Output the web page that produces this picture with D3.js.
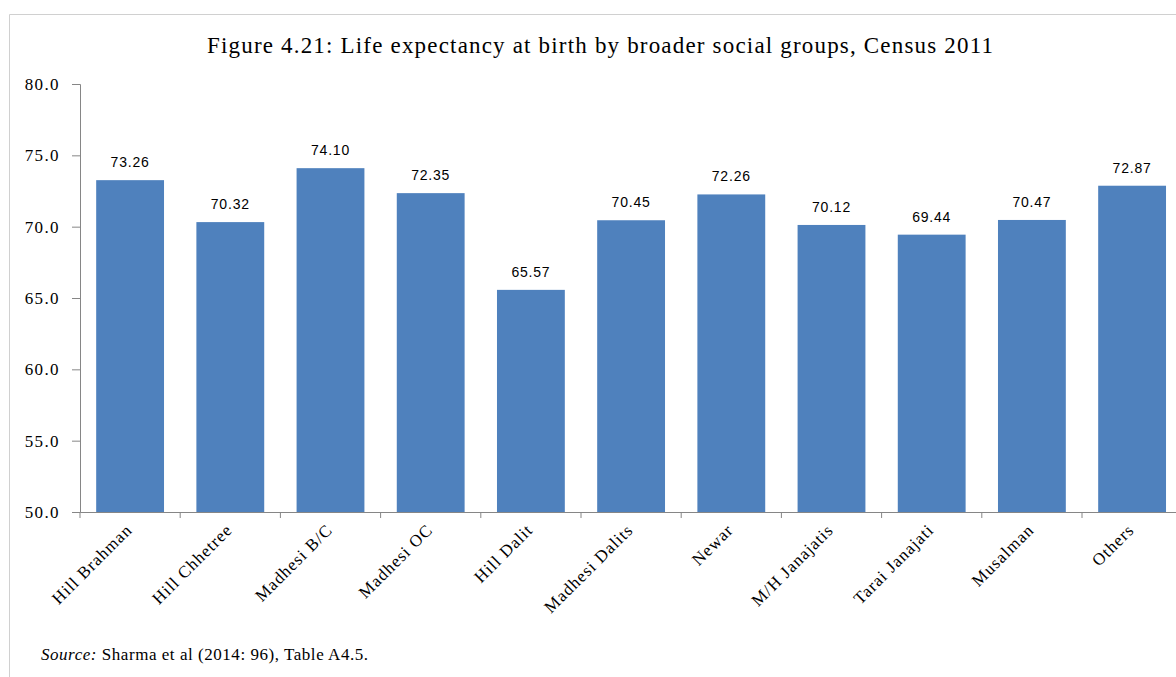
<!DOCTYPE html>
<html>
<head>
<meta charset="utf-8">
<script src="https://cdn.jsdelivr.net/npm/d3@7"></script>
<style>
  html, body { margin: 0; padding: 0; background: #ffffff; }
  svg { display: block; }
</style>
</head>
<body>
<svg id="chart" width="1176" height="677"></svg>
<script>
const categories = ["Hill Brahman", "Hill Chhetree", "Madhesi B/C", "Madhesi OC", "Hill Dalit", "Madhesi Dalits", "Newar", "M/H Janajatis", "Tarai Janajati", "Musalman", "Others"];
const values = [73.26, 70.32, 74.10, 72.35, 65.57, 70.45, 72.26, 70.12, 69.44, 70.47, 72.87];
const yTicks = [50, 55, 60, 65, 70, 75, 80];
const titleText = "Figure 4.21: Life expectancy at birth by broader social groups, Census 2011";
const sourceLabel = "Source:";
const sourceText = " Sharma et al (2014: 96), Table A4.5.";

const svg = d3.select("#chart");
const W = 1176, H = 677;
const m = { left: 80, top: 84, bottom: 512 };
const step = 100.2;
const x = d3.scaleBand().domain(categories).range([m.left, m.left + step * categories.length]).paddingInner(0.323).paddingOuter(0.1615);
const y = d3.scaleLinear().domain([50, 80]).range([m.bottom, m.top]);

// frame
svg.append("path").attr("d", `M9.5,${H} V14.5 H${W}`).attr("fill", "none").attr("stroke", "#d0d0d0").attr("stroke-width", 1);

// title
svg.append("text").attr("x", 207).attr("y", 53).attr("textLength", 786).attr("lengthAdjust", "spacing")
  .attr("font-family", "Liberation Serif, serif").attr("font-size", 23).attr("fill", "#000").text(titleText);

// bars
svg.append("g").selectAll("rect").data(categories).join("rect")
  .attr("x", d => x(d)).attr("width", x.bandwidth())
  .attr("y", (d, i) => y(values[i])).attr("height", (d, i) => y(50) - y(values[i]))
  .attr("fill", "#4F81BD");

// value labels
svg.append("g").selectAll("text").data(categories).join("text")
  .attr("x", d => x(d) + x.bandwidth() / 2).attr("y", (d, i) => y(values[i]) - 13)
  .attr("text-anchor", "middle").attr("font-family", "Liberation Sans, Arial, sans-serif").attr("font-size", 14)
  .attr("letter-spacing", 0.8).attr("fill", "#000")
  .text((d, i) => values[i].toFixed(2));

// y axis
const yAxis = svg.append("g").attr("transform", `translate(${m.left},0)`)
  .attr("font-family", "Liberation Serif, serif")
  .call(d3.axisLeft(y).tickValues(yTicks).tickFormat(d3.format(".1f")).tickSize(8).tickPadding(12));
yAxis.attr("font-family", "Liberation Serif, serif");
yAxis.select(".domain").attr("stroke", "#868686");
yAxis.selectAll(".tick line").attr("stroke", "#868686");
yAxis.selectAll(".tick text").attr("font-family", "Liberation Serif, serif").attr("font-size", 17)
  .attr("letter-spacing", 1.4).attr("fill", "#000");

// x axis
const xAxis = svg.append("g").attr("transform", `translate(0,${m.bottom})`)
  .call(d3.axisBottom(x).tickSize(0).tickFormat(""));
xAxis.select(".domain").attr("stroke", "#868686");
xAxis.selectAll(".tick").remove();
const bounds = categories.map(c => x(c) - x.step() * x.paddingInner() / 2).concat([x(categories[categories.length - 1]) + x.bandwidth() + x.step() * x.paddingInner() / 2]);
xAxis.selectAll("line.sep").data(bounds).join("line").attr("class", "sep")
  .attr("x1", d => d).attr("x2", d => d).attr("y1", 0).attr("y2", 6).attr("stroke", "#868686");

// x labels
svg.append("g").selectAll("text").data(categories).join("text")
  .attr("transform", d => `translate(${x(d) + x.bandwidth() / 2 + 3},${m.bottom + 19}) rotate(-45)`)
  .attr("text-anchor", "end").attr("font-family", "Liberation Serif, serif").attr("font-size", 17)
  .attr("letter-spacing", 1).attr("fill", "#000").text(d => d);

// source
const src = svg.append("text").attr("x", 41).attr("y", 660).attr("font-family", "Liberation Serif, serif")
  .attr("font-size", 17).attr("fill", "#000").attr("textLength", 327).attr("lengthAdjust", "spacing");
src.append("tspan").attr("font-style", "italic").text(sourceLabel);
src.append("tspan").text(sourceText);
</script>
</body>
</html>
